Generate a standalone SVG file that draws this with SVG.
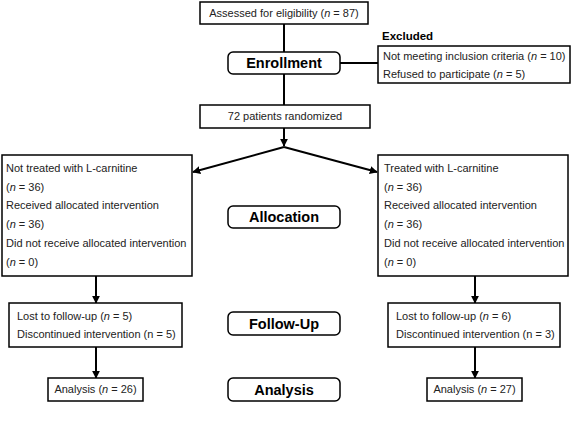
<svg xmlns="http://www.w3.org/2000/svg" width="572" height="422" viewBox="0 0 572 422">
<defs>
<marker id="ah" viewBox="0 0 10 10" refX="9" refY="5" markerWidth="4" markerHeight="4" markerUnits="strokeWidth" orient="auto">
<path d="M0,0 L10,5 L0,10 z" fill="#000"/>
</marker>
<style>
.box{fill:#fff;stroke:#000;stroke-width:1.5}
.stage{fill:#fff;stroke:#000;stroke-width:1.5}
.t{font-family:"Liberation Sans",Arial,sans-serif;font-size:11px;fill:#222}
.c{text-anchor:middle}
.b{font-family:"Liberation Sans",Arial,sans-serif;font-size:14.5px;font-weight:bold;fill:#000;text-anchor:middle}
.hd{font-family:"Liberation Sans",Arial,sans-serif;font-size:11.5px;font-weight:bold;fill:#000}
.i{font-style:italic}
.ln{stroke:#000;stroke-width:2;fill:none}
</style>
</defs>
<g id="connectors">
<line class="ln" x1="284" y1="24" x2="284" y2="105"/>
<line class="ln" x1="340" y1="63" x2="378" y2="63"/>
<line class="ln" x1="284" y1="128" x2="284" y2="146" marker-end="url(#ah)"/>
<line class="ln" x1="284" y1="147" x2="193" y2="172" marker-end="url(#ah)"/>
<line class="ln" x1="284" y1="147" x2="377" y2="172" marker-end="url(#ah)"/>
<line class="ln" x1="96" y1="276" x2="96" y2="303" marker-end="url(#ah)"/>
<line class="ln" x1="96" y1="347" x2="96" y2="378" marker-end="url(#ah)"/>
<line class="ln" x1="475" y1="276" x2="475" y2="303" marker-end="url(#ah)"/>
<line class="ln" x1="475" y1="347" x2="475" y2="378" marker-end="url(#ah)"/>
</g>
<g id="assessed">
<rect class="box" x="200" y="2" width="168" height="22"/>
<text class="t c" x="284" y="17">Assessed for eligibility (<tspan class="i">n</tspan> = 87)</text>
</g>
<g id="enrollment">
<rect class="stage" x="228" y="52" width="112" height="22" rx="5"/>
<text class="b" x="284" y="68">Enrollment</text>
</g>
<g id="excluded">
<text class="hd" x="382" y="40">Excluded</text>
<rect class="box" x="378" y="46" width="192" height="37"/>
<text class="t" x="383" y="60">Not meeting inclusion criteria (<tspan class="i">n</tspan> = 10)</text>
<text class="t" x="383" y="78">Refused to participate (<tspan class="i">n</tspan> = 5)</text>
</g>
<g id="randomized">
<rect class="box" x="200" y="105" width="170" height="23"/>
<text class="t c" x="285" y="120">72 patients randomized</text>
</g>
<g id="allocation">
<rect class="stage" x="228" y="206" width="112" height="22" rx="5"/>
<text class="b" x="284" y="222">Allocation</text>
</g>
<g id="control">
<rect class="box" x="2" y="155" width="190" height="121"/>
<text class="t" x="6" y="172">Not treated with L-carnitine</text>
<text class="t" x="6" y="191">(<tspan class="i">n</tspan> = 36)</text>
<text class="t" x="6" y="209">Received allocated intervention</text>
<text class="t" x="6" y="228">(<tspan class="i">n</tspan> = 36)</text>
<text class="t" x="6" y="247">Did not receive allocated intervention</text>
<text class="t" x="6" y="266">(<tspan class="i">n</tspan> = 0)</text>
</g>
<g id="treated">
<rect class="box" x="378" y="155" width="190" height="121"/>
<text class="t" x="384" y="172">Treated with L-carnitine</text>
<text class="t" x="384" y="191">(<tspan class="i">n</tspan> = 36)</text>
<text class="t" x="384" y="209">Received allocated intervention</text>
<text class="t" x="384" y="228">(<tspan class="i">n</tspan> = 36)</text>
<text class="t" x="384" y="247">Did not receive allocated intervention</text>
<text class="t" x="384" y="266">(<tspan class="i">n</tspan> = 0)</text>
</g>
<g id="followup">
<rect class="stage" x="228" y="312" width="112" height="23" rx="5"/>
<text class="b" x="284" y="329">Follow-Up</text>
</g>
<g id="fu-left">
<rect class="box" x="9" y="303" width="173" height="44"/>
<text class="t" x="17" y="320">Lost to follow-up (<tspan class="i">n</tspan> = 5)</text>
<text class="t" x="17" y="338">Discontinued intervention (n = 5)</text>
</g>
<g id="fu-right">
<rect class="box" x="388" y="303" width="172" height="44"/>
<text class="t" x="396" y="320">Lost to follow-up (<tspan class="i">n</tspan> = 6)</text>
<text class="t" x="396" y="338">Discontinued intervention (n = 3)</text>
</g>
<g id="analysis">
<rect class="stage" x="228" y="378" width="112" height="23" rx="5"/>
<text class="b" x="284" y="395">Analysis</text>
</g>
<g id="an-left">
<rect class="box" x="48" y="378" width="95" height="23"/>
<text class="t c" x="95.5" y="393">Analysis (<tspan class="i">n</tspan> = 26)</text>
</g>
<g id="an-right">
<rect class="box" x="427" y="378" width="95" height="23"/>
<text class="t c" x="474.5" y="393">Analysis (<tspan class="i">n</tspan> = 27)</text>
</g>
</svg>
